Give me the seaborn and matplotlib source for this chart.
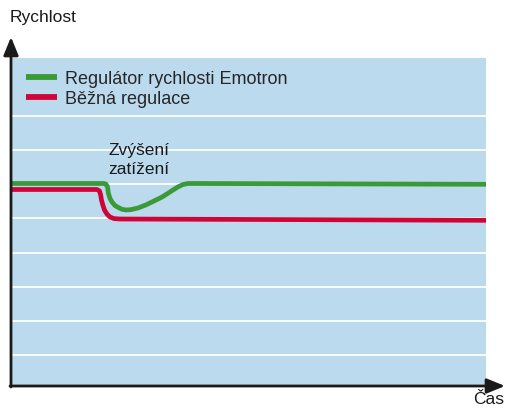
import pandas as pd
import matplotlib.pyplot as plt
import seaborn as sns

# --- data (time 0-100, speed in grid units) ---
emotron_x = [0, 19.41, 19.83, 20.15, 20.32, 20.68, 21.10, 21.73, 22.47, 23.21,
             24.05, 25.11, 26.58, 28.27, 29.96, 31.65, 33.33, 35.02, 36.08, 37.13, 100]
emotron_y = [6.03, 6.03, 6.01, 5.93, 5.75, 5.59, 5.485, 5.38, 5.32, 5.27,
             5.25, 5.26, 5.31, 5.40, 5.515, 5.63, 5.78, 5.93, 6.00, 6.03, 6.006]

bezna_x = [0, 17.93, 18.46, 18.71, 18.88, 19.16, 19.51, 20.04, 20.68, 21.52, 22.78, 100]
bezna_y = [5.853, 5.853, 5.81, 5.69, 5.54, 5.40, 5.25, 5.13, 5.044, 4.997, 4.985, 4.947]

series_names = ['Regulátor rychlosti Emotron', 'Běžná regulace']
series_colors = ['#3a9a37', '#cf0538']
grid_levels = [1, 2, 3, 4, 5, 6, 7, 8]

df = pd.concat([
    pd.DataFrame({'t': emotron_x, 'v': emotron_y, 'serie': series_names[0]}),
    pd.DataFrame({'t': bezna_x, 'v': bezna_y, 'serie': series_names[1]}),
])

sns.set_style('white')
plt.rcParams['font.family'] = ['Liberation Sans', 'DejaVu Sans']

fig = plt.figure(figsize=(5.06, 4.10), dpi=100)
W, H = 506, 410
ax = fig.add_axes([12 / W, (H - 387) / H, (486 - 12) / W, (387 - 59) / H])
ax.set_facecolor('#bbdaee')

for g in grid_levels:
    ax.axhline(g, color='white', lw=1.3, zorder=1)

sns.lineplot(data=df, x='t', y='v', hue='serie', palette=series_colors,
             estimator=None, sort=False, lw=3.4, ax=ax, zorder=3,
             solid_joinstyle='round', solid_capstyle='butt')

ax.set_xlim(0, 100)
ax.set_ylim(0.074, 9.72)
ax.set_xticks([])
ax.set_yticks([])
ax.set_xlabel('')
ax.set_ylabel('')
for s in ax.spines.values():
    s.set_visible(False)

leg = ax.legend(loc='upper left', bbox_to_anchor=(0.014, 0.985), frameon=False,
                fontsize=13, handlelength=1.7, handletextpad=0.45,
                labelspacing=0.18, borderaxespad=0)
for line in leg.get_lines():
    line.set_linewidth(4.2)
    line.set_solid_capstyle('butt')

ax.text(20.3, 6.90, 'Zvýšení', fontsize=12.5, ha='left', va='baseline',
        color='#1a1a1a', zorder=4)
ax.text(20.3, 6.33, 'zatížení', fontsize=12.5, ha='left', va='baseline',
        color='#1a1a1a', zorder=4)

# axis arrows
arrow = dict(arrowstyle='-|>,head_length=1.1,head_width=0.45', color='#1a1a1a',
             lw=2, shrinkA=0, shrinkB=0)
ax.annotate('', xy=(11, H - 38), xytext=(11, H - 388), xycoords='figure pixels',
            textcoords='figure pixels', arrowprops=arrow, annotation_clip=False)
ax.annotate('', xy=(505, H - 387), xytext=(10, H - 387), xycoords='figure pixels',
            textcoords='figure pixels', arrowprops=arrow, annotation_clip=False)

fig.text(10 / W, (H - 10) / H, 'Rychlost', fontsize=12.5, ha='left', va='top', color='#1a1a1a')
fig.text(504 / W, (H - 392) / H, 'Čas', fontsize=12.5, ha='right', va='top', color='#1a1a1a')

fig.savefig('out.png', dpi=100)
